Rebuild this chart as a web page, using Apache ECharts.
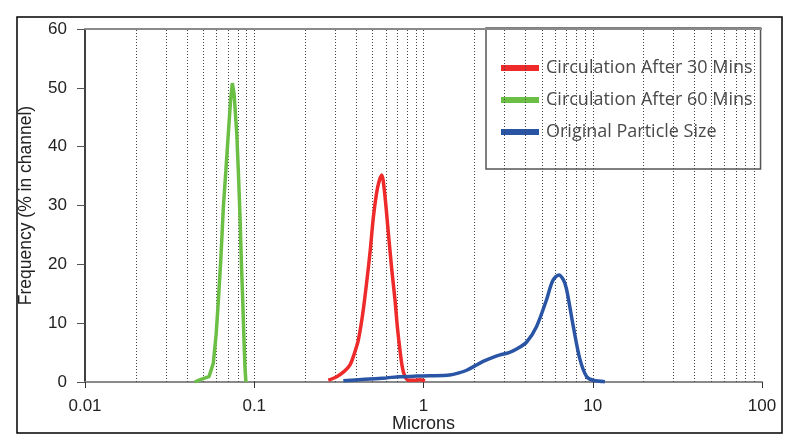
<!DOCTYPE html>
<html>
<head>
<meta charset="utf-8">
<script src="https://cdn.jsdelivr.net/npm/echarts@6/dist/echarts.min.js"></script>
<style>
  html, body { margin: 0; padding: 0; background: #fff; }
  #main { width: 793px; height: 445px; }
</style>
</head>
<body>
<div id="main"></div>
<script>
// particle size distribution, [microns, % in channel]
var red30 = [[0.274, 0.3], [0.307, 0.9], [0.34, 1.8], [0.368, 2.9], [0.39, 4.8], [0.412, 7.1],
    [0.437, 11.5], [0.461, 16.8], [0.485, 22.5], [0.506, 28.1], [0.535, 33], [0.566, 35.2],
    [0.59, 32], [0.62, 25.3], [0.65, 19], [0.679, 13.9], [0.70, 9.5], [0.726, 5.4], [0.75, 2.5],
    [0.778, 0.9], [0.82, 0.3], [0.9, 0.3], [0.95, 0.4], [1.02, 0.2]];
var green60 = [[0.0445, 0], [0.048, 0.4], [0.054, 0.9], [0.0573, 3.2], [0.0595, 8], [0.0614, 13.9],
    [0.0635, 21], [0.0657, 29.8], [0.068, 36], [0.0703, 42.3], [0.0725, 48], [0.0742, 50.8],
    [0.076, 49], [0.0788, 42.3], [0.0805, 36], [0.0824, 28.1], [0.084, 20], [0.0855, 13.9],
    [0.087, 7], [0.0881, 2.6], [0.0893, 0]];
var original = [[0.336, 0.2], [0.45, 0.45], [0.6, 0.7], [0.726, 0.9], [0.9, 1.0], [1.1, 1.05],
    [1.43, 1.2], [1.6, 1.5], [1.8, 2.0], [2.0, 2.7], [2.25, 3.5], [2.57, 4.2], [2.83, 4.6],
    [3.2, 5.0], [3.55, 5.6], [4.07, 6.8], [4.65, 9.4], [5.32, 13.9], [5.8, 17.2], [6.3, 18.2],
    [6.7, 17.4], [7.0, 15.8], [7.68, 9.4], [8.41, 3.8], [9.21, 0.9], [10.07, 0.3], [11.8, 0.05]];
var seriesNames = ['Circulation After 30 Mins', 'Circulation After 60 Mins', 'Original Particle Size'];
// dotted vertical grid positions
var gridX = [0.02, 0.03, 0.04, 0.05, 0.06, 0.07, 0.08, 0.09, 0.1,
    0.2, 0.3, 0.4, 0.5, 0.6, 0.7, 0.8, 0.9, 1,
    2, 3, 4, 5, 6, 7, 8, 9, 10,
    20, 30, 40, 50, 60, 70, 80, 90];

var myChart = echarts.init(document.getElementById('main'));

var gridLines = [];
for (var i = 0; i < gridX.length; i++) {
    gridLines.push({ xAxis: gridX[i] });
}
gridLines.push({ yAxis: 60, lineStyle: { type: 'solid', color: '#8a8a8a', width: 2 } });

var option = {
    animation: false,
    grid: { left: 85, right: 31, top: 29, bottom: 63 },
    graphic: [{
        type: 'rect',
        shape: { x: 17, y: 17, width: 765, height: 416 },
        style: { fill: 'none', stroke: '#000', lineWidth: 1.5 }
    }],
    legend: {
        data: seriesNames,
        orient: 'vertical',
        left: 486,
        top: 28,
        padding: [31, 8, 28, 15],
        itemGap: 14,
        itemWidth: 38,
        itemHeight: 6,
        icon: 'rect',
        backgroundColor: '#fff',
        borderColor: '#555',
        borderWidth: 1.5,
        borderRadius: 0,
        textStyle: { fontFamily: 'Open Sans', fontSize: 18, color: '#4a4a4a', padding: [0, 0, 0, 2] }
    },
    xAxis: {
        type: 'log',
        logBase: 10,
        min: 0.01,
        max: 100,
        name: 'Microns',
        nameLocation: 'middle',
        nameGap: 33,
        nameMoveOverlap: false,
        nameTextStyle: { fontFamily: 'Liberation Sans', fontSize: 18, color: '#222' },
        axisLine: { lineStyle: { color: '#8a8a8a', width: 2 } },
        axisTick: { length: 6, lineStyle: { color: '#333' } },
        axisLabel: { fontFamily: 'Liberation Sans', fontSize: 17, color: '#222', margin: 16 },
        splitLine: { show: false }
    },
    yAxis: {
        type: 'value',
        min: 0,
        max: 60,
        interval: 10,
        name: 'Frequency (% in channel)',
        nameLocation: 'middle',
        nameGap: 50,
        nameMoveOverlap: false,
        nameTextStyle: { fontFamily: 'Liberation Sans', fontSize: 17.5, color: '#222' },
        axisLine: { show: true, lineStyle: { color: '#000', width: 1.5 } },
        axisTick: { show: true, length: 8, lineStyle: { color: '#555' } },
        axisLabel: { fontFamily: 'Liberation Sans', fontSize: 17, color: '#222', margin: 18 },
        splitLine: { show: false }
    },
    series: [
        {
            name: seriesNames[0],
            type: 'line',
            data: red30,
            smooth: 0.3,
            showSymbol: false,
            z: 5,
            lineStyle: { color: '#ee2a2a', width: 3.5 },
            itemStyle: { color: '#ee2a2a' },
            markLine: {
                silent: true,
                symbol: 'none',
                label: { show: false },
                lineStyle: { type: [1, 2], color: '#444', width: 1 },
                data: gridLines
            }
        },
        {
            name: seriesNames[1],
            type: 'line',
            data: green60,
            showSymbol: false,
            z: 5,
            lineStyle: { color: '#6cbf45', width: 3.5 },
            itemStyle: { color: '#6cbf45' }
        },
        {
            name: seriesNames[2],
            type: 'line',
            data: original,
            smooth: 0.3,
            showSymbol: false,
            z: 5,
            lineStyle: { color: '#2a55a5', width: 3.5 },
            itemStyle: { color: '#2a55a5' }
        }
    ]
};

myChart.setOption(option);
</script>
</body>
</html>
